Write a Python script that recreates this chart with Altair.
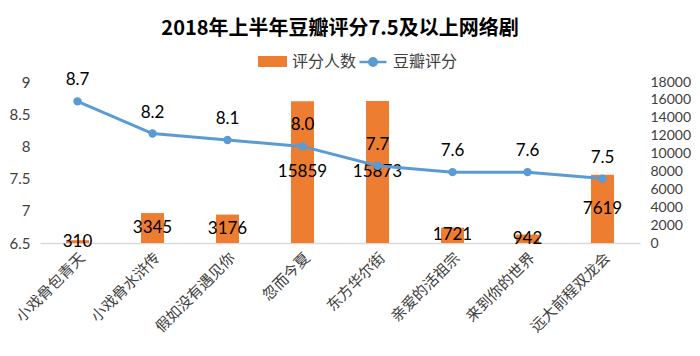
import altair as alt
import pandas as pd

cats = ["小戏骨包青天", "小戏骨水浒传", "假如没有遇见你", "忽而今夏",
        "东方华尔街", "亲爱的活祖宗", "来到你的世界", "远大前程双龙会"]
counts = [310, 3345, 3176, 15859, 15873, 1721, 942, 7619]
scores = [8.7, 8.2, 8.1, 8.0, 7.7, 7.6, 7.6, 7.5]
right_ticks = [0, 2000, 4000, 6000, 8000, 10000, 12000, 14000, 16000, 18000]
left_ticks = [6.5, 7, 7.5, 8, 8.5, 9]

df = pd.DataFrame({"cat": cats, "count": counts, "score": scores})

FONT = "Noto Sans CJK SC"
NUMFONT = "Lato"
ORANGE = "#ED7D31"
BLUE = "#5B9BD5"

x = alt.X("cat:N", sort=cats, title=None,
          scale=alt.Scale(paddingInner=0.0, paddingOuter=0.0),
          axis=alt.Axis(labelAngle=315, labelFontSize=15, labelFont=FONT,
                        labelColor="#404040", ticks=False, domainColor="#D9D9D9",
                        domainWidth=1.5, labelPadding=7, grid=False))

right_axis = alt.Axis(orient="right", values=right_ticks,
                      format="d", labelOverlap=False, labelBound=False,
                      labelFontSize=14, labelFont=NUMFONT, labelColor="#404040",
                      ticks=False, domain=False, grid=False, labelPadding=10)
cscale = alt.Scale(domain=[0, 18000], nice=False)

bar = alt.Chart(df).transform_calculate(s1="'评分人数'").mark_bar(size=23).encode(
    x=x,
    y=alt.Y("count:Q", title=None, scale=cscale, axis=right_axis),
    color=alt.Color("s1:N", scale=alt.Scale(domain=["评分人数"], range=[ORANGE]),
                    legend=alt.Legend(orient="none", legendX=218, legendY=-35,
                                      title=None, labelFont=FONT, labelFontSize=16,
                                      labelColor="#404040", symbolType="M-1,-0.38H1V0.38H-1Z",
                                      symbolSize=841, symbolStrokeWidth=0, padding=0,
                                      labelOffset=5)),
)

bartext = alt.Chart(df).transform_calculate(half="datum.count / 2").mark_text(
    fontSize=17, font=NUMFONT, color="#000000", baseline="middle").encode(
    x=x,
    y=alt.Y("half:Q", title=None, scale=cscale, axis=right_axis),
    text=alt.Text("count:Q", format="d"),
)

yline = alt.Y("score:Q", title=None,
              scale=alt.Scale(domain=[6.5, 9], nice=False, zero=False),
              axis=alt.Axis(orient="left", values=left_ticks,
                            format="~g", labelOverlap=False, labelBound=False,
                            labelFontSize=15, labelFont=NUMFONT, labelColor="#404040",
                            ticks=False, domain=False, grid=False, labelPadding=10))

line = alt.Chart(df).transform_calculate(s2="'豆瓣评分'").mark_line(strokeWidth=3).encode(
    x=x,
    y=yline,
    stroke=alt.Stroke("s2:N", scale=alt.Scale(domain=["豆瓣评分"], range=[BLUE]),
                      legend=alt.Legend(orient="none", legendX=318, legendY=-35,
                                        title=None, labelFont=FONT, labelFontSize=16,
                                        labelColor="#404040",
                                        symbolType="M-1,0H1M0.28,0A0.28,0.28 0 1,1 -0.28,0A0.28,0.28 0 1,1 0.28,0Z",
                                        symbolSize=729, symbolFillColor=BLUE,
                                        symbolStrokeWidth=2.5, padding=0, labelOffset=5)),
)

pts = alt.Chart(df).mark_circle(size=70, color=BLUE, opacity=1).encode(x=x, y=yline)

linetext = alt.Chart(df).mark_text(fontSize=17, font=NUMFONT, color="#000000",
                                   baseline="middle", dy=-21).encode(
    x=x, y=yline, text=alt.Text("score:Q", format=".1f"))

chart = alt.layer(
    alt.layer(bar, bartext),
    alt.layer(line, pts, linetext),
).resolve_scale(y="independent").properties(
    width=600, height=161,
    title=alt.Title("2018年上半年豆瓣评分7.5及以上网络剧", font=FONT, fontSize=20,
                    fontWeight="bold", color="#000000", anchor="middle", offset=8),
    autosize=alt.AutoSizeParams(type="none"),
    padding={"left": 32, "top": 74, "right": 52, "bottom": 105},
).configure_view(stroke=None)

chart.save("out.html", embed_options={"renderer": "svg", "actions": False})
